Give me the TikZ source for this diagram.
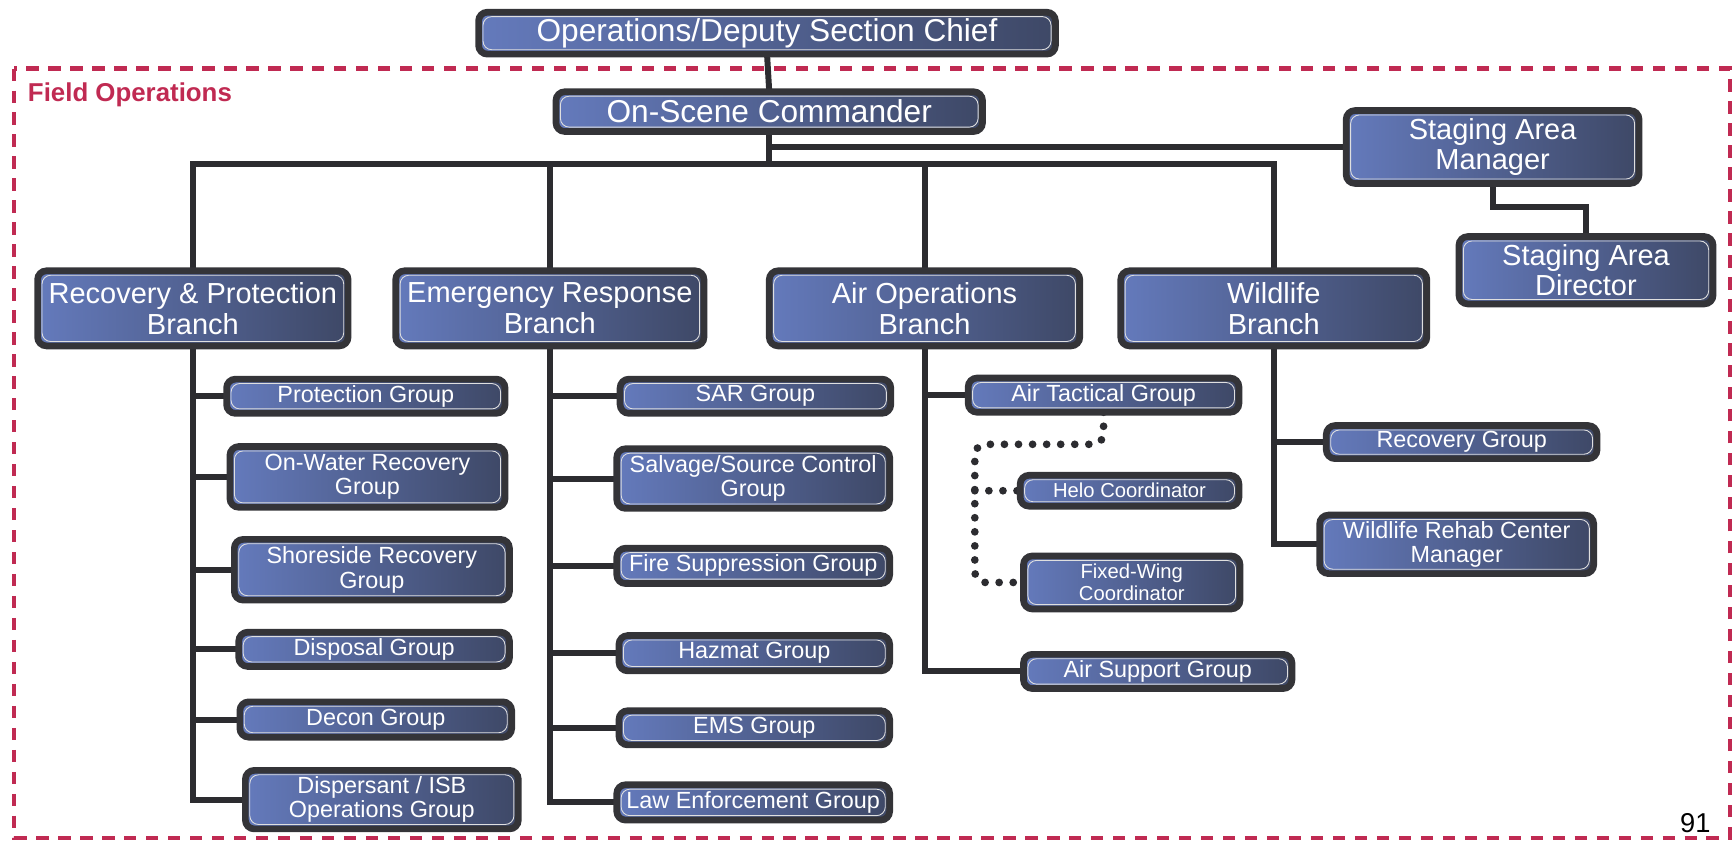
\documentclass[tikz,border=0pt]{standalone}
\usepackage{fontspec}
\setmainfont{Liberation Sans}
\usetikzlibrary{calc,backgrounds}

\definecolor{boxL}{RGB}{100,122,188}
\definecolor{boxR}{RGB}{62,72,102}
\definecolor{boxedge}{RGB}{52,52,56}
\definecolor{linkgray}{RGB}{44,44,48}
\definecolor{fieldred}{RGB}{192,42,82}

% one drawing unit in cm
\def\pxu{0.0221}

% \orgbox{name}{style}{left}{top}{right}{bottom}{text}
\newcommand{\orgbox}[7]{%
  \pgfmathsetmacro{\bxw}{(#5-#3)*\pxu-0.134}%
  \pgfmathsetmacro{\bxh}{(#6-#4)*\pxu-0.134}%
  \node[#2, minimum width=\bxw cm, minimum height=\bxh cm] (#1)
    at ({(#3+#5)/2},{(#4+#6)/2}) {#7};%
}

\tikzset{
  box/.style={draw=boxedge, line width=3.8pt, rounded corners=5pt,
    left color=boxL, right color=boxR, text=white, align=center,
    inner sep=1pt, outer sep=0pt,
    path picture={\draw[white!75!gray, line width=0.5pt]
      ([shift={(2.5pt,-2.5pt)}]path picture bounding box.north west) rectangle
      ([shift={(-2.5pt,2.5pt)}]path picture bounding box.south east);}},
  bigbox/.style={box, font=\fontsize{18}{20}\selectfont},
  midbox/.style={box, font=\fontsize{16.5}{17.5}\selectfont},
  grpbox/.style={box, font=\fontsize{13.3}{14}\selectfont},
  smlbox/.style={box, font=\fontsize{11.5}{12.5}\selectfont},
  link/.style={draw=linkgray, line width=3.4pt},
  dotlink/.style={draw=linkgray, line width=4.4pt, line cap=round,
    dash pattern=on 0pt off 8pt, rounded corners=6pt},
  fieldframe/.style={draw=fieldred, line width=2.4pt, dash pattern=on 7pt off 5.5pt},
}

\begin{document}
\begin{tikzpicture}[x=\pxu cm, y=-\pxu cm]
\useasboundingbox (0,0) rectangle (1568,763);

% field operations frame and labels
\draw[fieldframe] (13,62) rectangle (1565,758);
\node[font=\bfseries\fontsize{14.7}{16}\selectfont, text=fieldred, anchor=base west, inner sep=0pt]
  (fieldlbl) at (25,92) {Field Operations};
\node[font=\fontsize{15.5}{16}\selectfont, anchor=base east, inner sep=0pt]
  (pagenum) at (1548,753) {91};

% command level
\orgbox{ops}{bigbox}{430}{8}{958}{52}{Operations/Deputy Section Chief}
\orgbox{osc}{bigbox}{500}{80}{892}{122}{On-Scene Commander}
\orgbox{sam}{midbox}{1215}{97}{1486}{169}{Staging Area\\Manager}
\orgbox{sad}{midbox}{1317}{211}{1553}{278}{Staging Area\\Director}

% branches
\orgbox{rpb}{midbox}{31}{242}{318}{316}{Recovery \& Protection\\Branch}
\orgbox{erb}{midbox}{355}{242}{640}{316}{Emergency Response\\Branch}
\orgbox{aob}{midbox}{693}{242}{980}{316}{Air Operations\\Branch}
\orgbox{wlb}{midbox}{1011}{242}{1294}{316}{Wildlife\\Branch}

% recovery & protection groups
\orgbox{prot}{grpbox}{202}{340}{460}{377}{Protection Group}
\orgbox{onw}{grpbox}{205}{401}{460}{462}{On-Water Recovery\\Group}
\orgbox{shore}{grpbox}{209}{485}{464}{546}{Shoreside Recovery\\Group}
\orgbox{disp}{grpbox}{213}{569}{464}{606}{Disposal Group}
\orgbox{decon}{grpbox}{214}{632}{466}{670}{Decon Group}
\orgbox{dsp}{grpbox}{219}{694}{472}{753}{Dispersant / ISB\\Operations Group}

% emergency response groups
\orgbox{sar}{grpbox}{558}{340}{809}{377}{SAR Group}
\orgbox{salv}{grpbox}{555}{403}{808}{463}{Salvage/Source Control\\Group}
\orgbox{fire}{grpbox}{555}{493}{808}{531}{Fire Suppression Group}
\orgbox{haz}{grpbox}{557}{572}{808}{610}{Hazmat Group}
\orgbox{ems}{grpbox}{557}{640}{808}{677}{EMS Group}
\orgbox{law}{grpbox}{555}{707}{808}{745}{Law Enforcement Group}

% air operations groups
\orgbox{atg}{grpbox}{873}{339}{1124}{376}{Air Tactical Group}
\orgbox{helo}{smlbox}{920}{427}{1124}{461}{Helo Coordinator}
\orgbox{fw}{smlbox}{923}{500}{1125}{554}{Fixed-Wing\\Coordinator}
\orgbox{asg}{grpbox}{923}{589}{1172}{626}{Air Support Group}

% wildlife groups
\orgbox{recg}{grpbox}{1197}{382}{1448}{418}{Recovery Group}
\orgbox{rehab}{grpbox}{1191}{463}{1445}{522}{Wildlife Rehab Center\\Manager}

\coordinate (bus) at (0,148);
\coordinate (airbend) at (882,402);

\begin{scope}[on background layer]
  % command chain
  \draw[link] (ops.south) -- (osc.north);
  \draw[link] (osc.south) -- (osc.south |- bus);
  \draw[link] (osc.south |- sam.west) -- (sam.west);
  \draw[link] (sam.south) -- ++(0,21) -| (sad.north);
  % branch bus
  \draw[link] (rpb.north) -- (rpb.north |- bus) -- (wlb.north |- bus) -- (wlb.north);
  \draw[link] (erb.north) -- (erb.north |- bus);
  \draw[link] (aob.north) -- (aob.north |- bus);
  % recovery & protection
  \draw[link] (rpb.south) |- (dsp.west);
  \foreach \g in {prot,onw,shore,disp,decon}
    \draw[link] (rpb.south |- \g.west) -- (\g.west);
  % emergency response
  \draw[link] (erb.south) |- (law.west);
  \foreach \g in {sar,salv,fire,haz,ems}
    \draw[link] (erb.south |- \g.west) -- (\g.west);
  % air operations
  \draw[link] (aob.south) |- (asg.west);
  \draw[link] (aob.south |- atg.west) -- (atg.west);
  \draw[dotlink] (atg.south) -- (atg.south |- airbend) -- (airbend) |- (fw.west);
  \draw[dotlink] (airbend |- helo.west) -- (helo.west);
  % wildlife
  \draw[link] (wlb.south) |- (rehab.west);
  \draw[link] (wlb.south |- recg.west) -- (recg.west);
\end{scope}
\end{tikzpicture}
\end{document}
